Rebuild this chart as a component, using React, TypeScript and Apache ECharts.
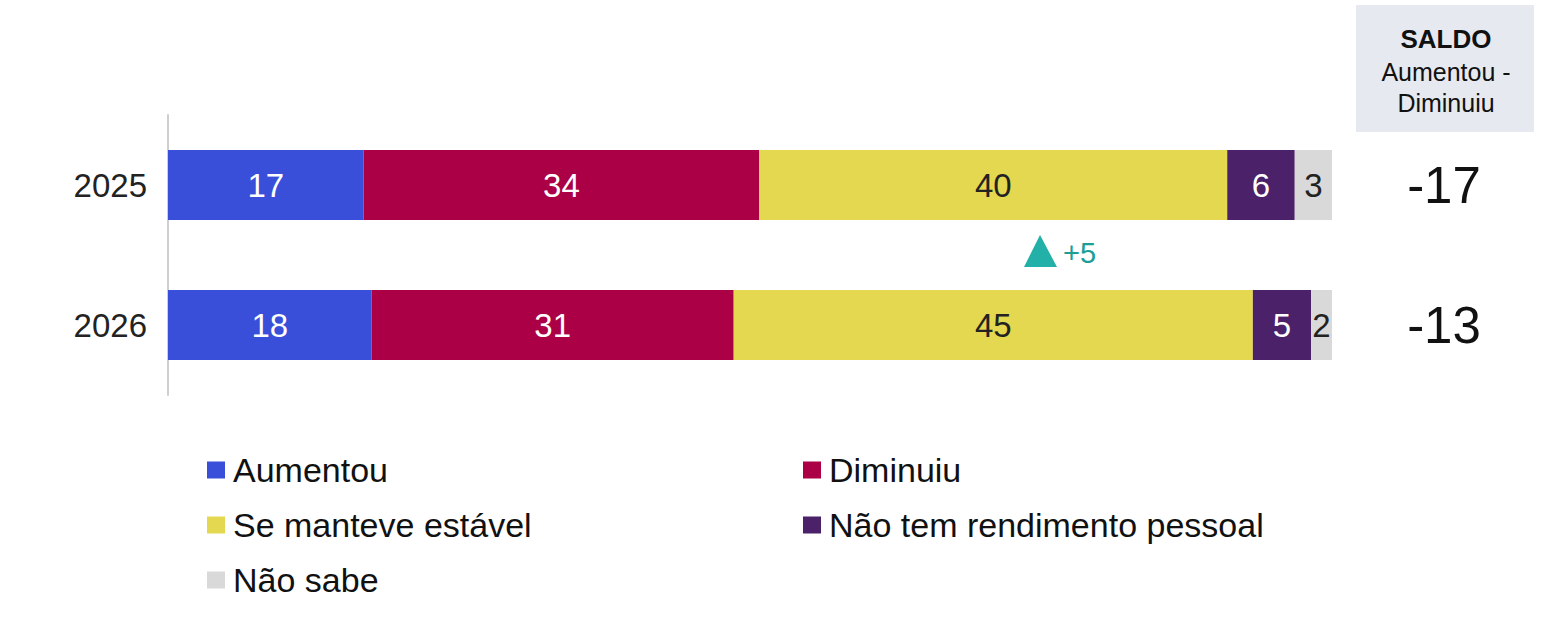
import React, { useEffect, useRef } from 'react';
import * as echarts from 'echarts';

const years = ['2025', '2026'];
const seriesNames = ['Aumentou', 'Diminuiu', 'Se manteve estável', 'Não tem rendimento pessoal', 'Não sabe'];
const colors = ['#3a4fd9', '#ab0045', '#e3d84f', '#4b2169', '#d9d9d9'];
const labelColors = ['#ffffff', '#ffffff', '#222222', '#ffffff', '#222222'];

// shares; labels show the rounded figure
const aumentou = [16.8, 17.5];
const diminuiu = [34.0, 31.1];
const estavel = [40.2, 44.6];
const semRendimento = [5.8, 5.0];
const naoSabe = [3.2, 1.8];
const shownLabels = [
  [17, 18],
  [34, 31],
  [40, 45],
  [6, 5],
  [3, 2],
];
const saldo = ['-17', '-13'];

const FONT = "'Liberation Sans', Arial, sans-serif";

const App: React.FC = () => {
  const chartRef = useRef<HTMLDivElement>(null);

  useEffect(() => {
    if (!chartRef.current) return;
    document.body.style.margin = '0';

    const chart = echarts.init(chartRef.current, undefined, { renderer: 'svg' });
    const values = [aumentou, diminuiu, estavel, semRendimento, naoSabe];

    const legendBase = {
      orient: 'vertical' as const,
      top: 448,
      icon: 'rect',
      itemWidth: 18,
      itemHeight: 17,
      itemGap: 21,
      textStyle: { fontSize: 34, lineHeight: 34, color: '#111', fontFamily: FONT, padding: [0, 0, 0, 3] },
    };

    const option: echarts.EChartsOption = {
      animation: false,
      textStyle: { fontFamily: FONT },
      grid: { left: 168, right: 216, top: 115, height: 280 },
      xAxis: {
        type: 'value',
        min: 0,
        max: 100,
        show: false,
      },
      yAxis: [
        {
          type: 'category',
          data: years,
          inverse: true,
          axisLine: { show: true, lineStyle: { color: '#cfcfcf', width: 2 } },
          axisTick: { show: false },
          axisLabel: { color: '#222', fontSize: 33, margin: 21, fontFamily: FONT },
        },
        {
          type: 'category',
          data: saldo,
          inverse: true,
          position: 'right',
          axisLine: { show: false },
          axisTick: { show: false },
          axisLabel: { color: '#111', fontSize: 51, margin: 112, align: 'center', fontFamily: FONT },
        },
      ],
      legend: [
        { ...legendBase, left: 202, data: [seriesNames[0], seriesNames[2], seriesNames[4]] },
        { ...legendBase, left: 798, data: [seriesNames[1], seriesNames[3]] },
      ],
      series: seriesNames.map((name, i) => ({
        name,
        type: 'bar',
        stack: 'total',
        barWidth: 70,
        itemStyle: { color: colors[i] },
        label: {
          show: true,
          position: 'inside',
          color: labelColors[i],
          fontSize: 33,
          fontFamily: FONT,
          formatter: (p: any) => String(shownLabels[i][p.dataIndex]),
        },
        data: values[i],
      })),
      graphic: [
        {
          type: 'rect',
          shape: { x: 1356, y: 5, width: 178, height: 127 },
          style: { fill: '#e6e9ef' },
        },
        {
          type: 'text',
          x: 1446,
          y: 39,
          style: { text: 'SALDO', fontSize: 26, fontWeight: 'bold', fill: '#111', align: 'center', verticalAlign: 'middle', fontFamily: FONT },
        },
        {
          type: 'text',
          x: 1446,
          y: 72,
          style: { text: 'Aumentou -', fontSize: 25, fill: '#111', align: 'center', verticalAlign: 'middle', fontFamily: FONT },
        },
        {
          type: 'text',
          x: 1446,
          y: 103,
          style: { text: 'Diminuiu', fontSize: 25, fill: '#111', align: 'center', verticalAlign: 'middle', fontFamily: FONT },
        },
        {
          type: 'polygon',
          shape: { points: [[1040, 235], [1024, 267], [1057, 267]] },
          style: { fill: '#22b0a8' },
        },
        {
          type: 'text',
          x: 1063,
          y: 253,
          style: { text: '+5', fontSize: 29, fill: '#1a9e96', verticalAlign: 'middle', fontFamily: FONT },
        },
      ],
    };

    chart.setOption(option);

    return () => {
      chart.dispose();
    };
  }, []);

  return <div ref={chartRef} style={{ width: '1548px', height: '633px' }} />;
};

export default App;
